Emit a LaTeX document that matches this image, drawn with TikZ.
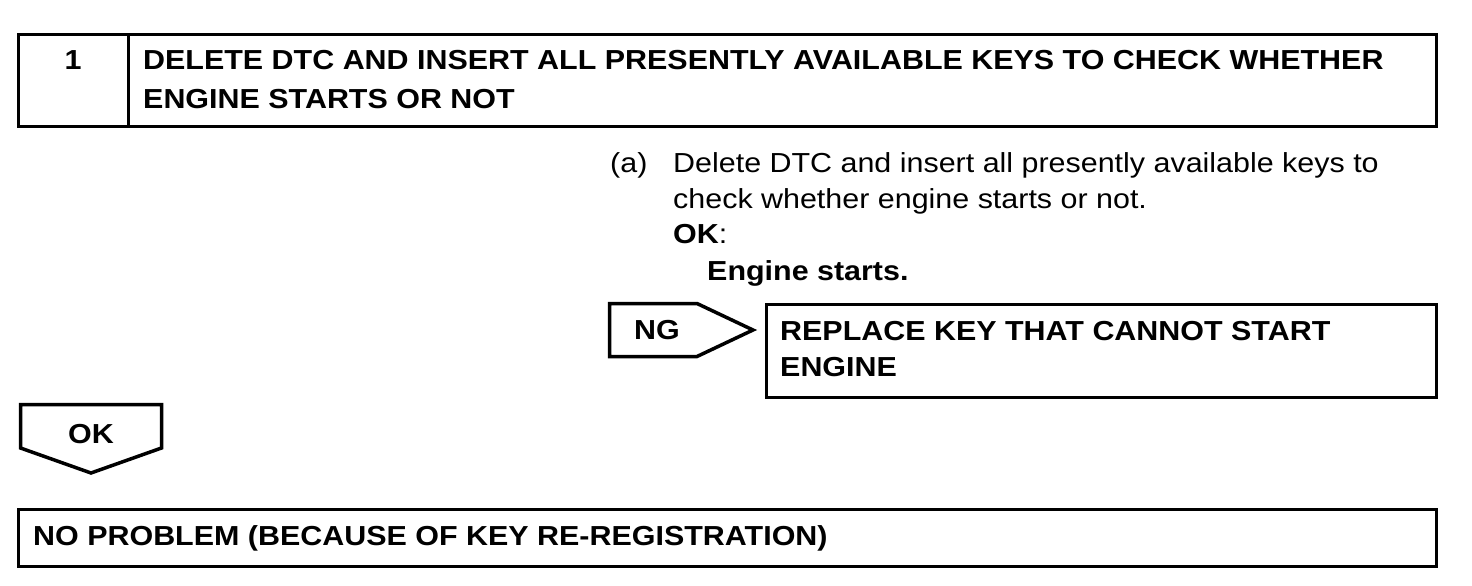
\documentclass[tikz,border=0pt]{standalone}
\usepackage{fontspec}
\setmainfont{Liberation Sans}[FakeStretch=1.107]
\begin{document}
\begin{tikzpicture}[x=1pt,y=-1pt,
  frame/.style={draw=black,line width=3.5pt,line join=miter},
  txt/.style={inner sep=0pt,anchor=base west,font=\fontsize{27.5}{36}\selectfont},
  btxt/.style={inner sep=0pt,anchor=base west,font=\fontsize{27.5}{36}\selectfont\bfseries},
  ctxt/.style={inner sep=0pt,anchor=base,font=\fontsize{27.5}{36}\selectfont\bfseries}]
\useasboundingbox (0,0) rectangle (1472,586);
% step 1 header
\draw[frame] (18.5,34.5) rectangle (1436.5,126.5);
\draw[frame] (128.5,34.5) -- (128.5,126.5);
\node[ctxt] (num) at (73,70) {1};
\node[btxt] (title1) at (143,70) {DELETE DTC AND INSERT ALL PRESENTLY AVAILABLE KEYS TO CHECK WHETHER};
\node[btxt] (title2) at (143,108) {ENGINE STARTS OR NOT};
% instructions
\node[txt] (a) at (610,172) {(a)};
\node[txt] (inst1) at (673,172) {Delete DTC and insert all presently available keys to};
\node[txt] (inst2) at (673,208) {check whether engine starts or not.};
\node[txt] (okl) at (673,243) {\textbf{OK}:};
\node[btxt] (oks) at (707,280) {Engine starts.};
% NG branch
\draw[frame] (609.5,303.5) -- (697,303.5) -- (753,330) -- (697,356.5) -- (609.5,356.5) -- cycle;
\node[ctxt] (ng) at (657,339) {NG};
\draw[frame] (766.5,304.5) rectangle (1436.5,397.5);
\node[btxt] (rep1) at (780,340) {REPLACE KEY THAT CANNOT START};
\node[btxt] (rep2) at (780,376) {ENGINE};
% OK branch
\draw[frame] (20.5,404.5) -- (161.5,404.5) -- (161.5,448) -- (91,473) -- (20.5,448) -- cycle;
\node[ctxt] (ok) at (91,443) {OK};
\draw[frame] (18.5,509.5) rectangle (1436.5,566.5);
\node[btxt] (np) at (33,545) {NO PROBLEM (BECAUSE OF KEY RE-REGISTRATION)};
\end{tikzpicture}
\end{document}
